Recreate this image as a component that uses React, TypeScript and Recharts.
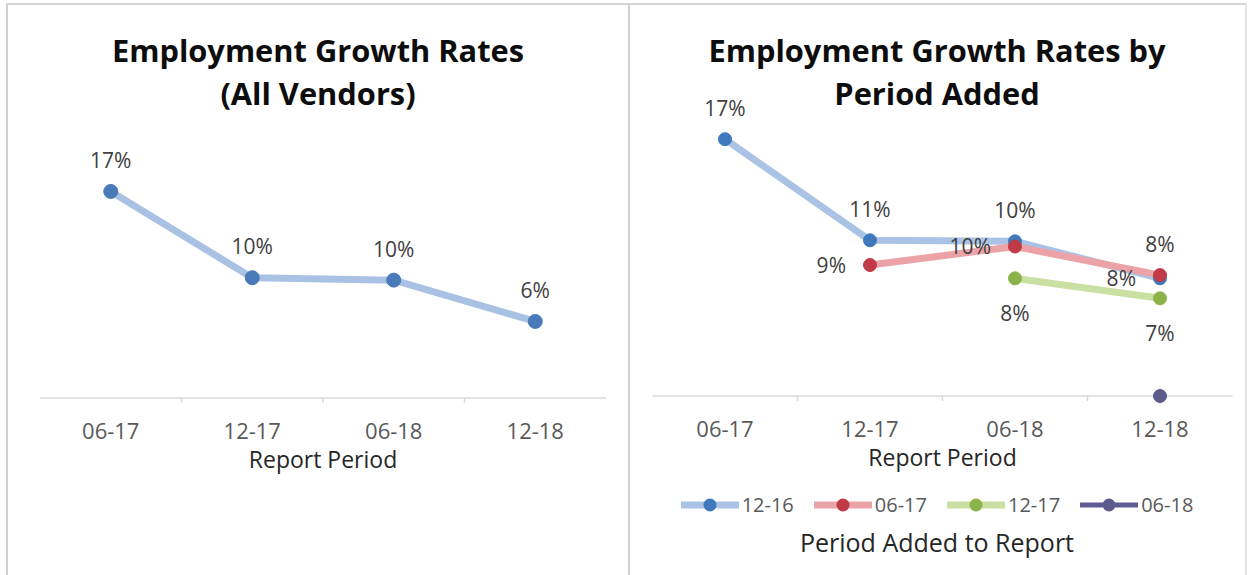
import { LineChart, Line, XAxis, YAxis, LabelList, Legend } from "recharts";

// report periods on the x axis
const periods = ["06-17", "12-17", "06-18", "12-18"];

// growth rate (%) across all vendors
const allVendors = [17.0, 9.9, 9.7, 6.3];

// growth rate (%) by the period the vendor was added
const added1216 = [17.35, 10.52, 10.45, 7.95];
const added0617 = [null, 8.85, 10.1, 8.17];
const added1217 = [null, null, 7.95, 6.6];
const added0618 = [null, null, null, 0];
const addedNames = ["12-16", "06-17", "12-17", "06-18"];

const FONT = '"Open Sans", "Noto Sans", sans-serif';

const allData = periods.map((period, i) => ({ period, rate: allVendors[i] }));

const addedData = periods.map((period, i) => ({
  period,
  s1216: added1216[i],
  s0617: added0617[i],
  s1217: added1217[i],
  s0618: added0618[i],
}));

const addedSeries = [
  { key: "s1216", values: added1216, line: "#aac3e4", dot: "#3f78bd", labels: ["top", "top", "top", "left"] },
  { key: "s0617", values: added0617, line: "#eba3a7", dot: "#c13a47", labels: [null, "left", "left", "top"] },
  { key: "s1217", values: added1217, line: "#cadfa2", dot: "#8cb34a", labels: [null, null, "bottom", "bottom"] },
  { key: "s0618", values: added0618, line: "#5f5b92", dot: "#5d5a8c", labels: [null, null, null, null] },
];

function pointLabel(places: (string | null)[], values: (number | null)[]) {
  return (props: any) => {
    const value = props.value;
    if (value == null) return null;
    const idx = typeof props.index === "number" ? props.index : values.indexOf(value);
    const place = places[idx];
    if (!place) return null;
    const vb = props.viewBox;
    const x = vb ? vb.x + (vb.width || 0) / 2 : props.x;
    const y = vb ? vb.y + (vb.height || 0) / 2 : props.y;
    let tx = x;
    let ty = y;
    let anchor = "middle";
    if (place === "top") ty = y - 31;
    else if (place === "bottom") ty = y + 35;
    else if (place === "left") {
      tx = x - 24;
      anchor = "end";
    }
    return (
      <text x={tx} y={ty} dy="0.36em" textAnchor={anchor} fill="#404040" fontSize={21} fontFamily={FONT}>
        {Math.round(value)}%
      </text>
    );
  };
}

function periodTick(half: number) {
  return (props: any) => {
    const { x, y, payload, index } = props;
    return (
      <g>
        <text x={x} y={y + 33} dy="0.36em" textAnchor="middle" fill="#595959" fontSize={22} fontFamily={FONT}>
          {payload.value}
        </text>
        {index < periods.length - 1 && (
          <line x1={x + half} x2={x + half} y1={y} y2={y + 5} stroke="#d9d9d9" strokeWidth={1.5} />
        )}
      </g>
    );
  };
}

function AddedLegend(props: any) {
  const payload = props.payload || [];
  return (
    <div style={{ width: 616, fontFamily: FONT }}>
      <div style={{ display: "flex", justifyContent: "center", alignItems: "center", gap: 20, height: 30 }}>
        {addedSeries.map((s, i) => {
          const entry = payload.find((p: any) => p.dataKey === s.key);
          return (
            <div key={s.key} style={{ display: "flex", alignItems: "center", gap: 3 }}>
              <svg width={58} height={16}>
                <line x1={0} x2={58} y1={8} y2={8} stroke={s.line} strokeWidth={s.key === "s0618" ? 5 : 7} />
                <circle cx={29} cy={8} r={6.5} fill={s.dot} />
              </svg>
              <span style={{ fontSize: 20, color: "#595959", lineHeight: "30px" }}>
                {entry ? entry.value : addedNames[i]}
              </span>
            </div>
          );
        })}
      </div>
      <div style={{ textAlign: "center", fontSize: 25, color: "#262626", lineHeight: "30px", marginTop: 7 }}>
        Period Added to Report
      </div>
    </div>
  );
}

const titleStyle: React.CSSProperties = {
  position: "absolute",
  top: 29,
  textAlign: "center",
  fontFamily: FONT,
  fontWeight: 700,
  fontSize: 30.8,
  lineHeight: "43px",
  color: "#0d0d0d",
};

const axisTitle = { fill: "#262626", fontSize: 23, fontFamily: FONT };

export default function App() {
  return (
    <div style={{ position: "absolute", left: 0, top: 0, width: 1249, height: 575, background: "#fff", overflow: "hidden" }}>
      <div
        style={{
          position: "absolute",
          left: 6,
          top: 3,
          width: 1237,
          height: 600,
          borderTop: "2px solid #d6d6d6",
          borderLeft: "2px solid #d0d0d0",
          borderRight: "2px solid #e4e4e4",
        }}
      />
      <div style={{ position: "absolute", left: 628, top: 3, width: 2, height: 572, background: "#d0d0d0" }} />

      <div style={{ ...titleStyle, left: 8, width: 620 }}>
        Employment Growth Rates
        <br />
        (All Vendors)
      </div>
      <div style={{ ...titleStyle, left: 630, width: 614 }}>
        Employment Growth Rates by
        <br />
        Period Added
      </div>

      <div style={{ position: "absolute", left: 6, top: 4 }}>
        <LineChart width={616} height={566} data={allData} margin={{ top: 151, right: 16, bottom: 92, left: 34 }}>
          <XAxis
            dataKey="period"
            padding={{ left: 70.75, right: 70.75 }}
            axisLine={{ stroke: "#d9d9d9", strokeWidth: 1.5 }}
            tickLine={false}
            tickSize={0}
            tickMargin={0}
            height={80}
            interval={0}
            tick={periodTick(70.75)}
            label={{ value: "Report Period", position: "insideTop", offset: 54, ...axisTitle }}
          />
          <YAxis hide type="number" domain={[0, 20]} />
          <Line
            dataKey="rate"
            type="linear"
            stroke="#a9c2e3"
            strokeWidth={7}
            strokeLinejoin="round"
            dot={{ r: 7, fill: "#4a7ab7", stroke: "#4a7ab7", strokeWidth: 1 }}
            activeDot={false}
            isAnimationActive={false}
          >
            <LabelList dataKey="rate" content={pointLabel(["top", "top", "top", "top"], allVendors)} />
          </Line>
        </LineChart>
      </div>

      <div style={{ position: "absolute", left: 629, top: 4 }}>
        <LineChart width={616} height={566} data={addedData} margin={{ top: 96, right: 12.5, bottom: 94, left: 23.5 }}>
          <XAxis
            dataKey="period"
            padding={{ left: 72.5, right: 72.5 }}
            axisLine={{ stroke: "#d9d9d9", strokeWidth: 1.5 }}
            tickLine={false}
            tickSize={0}
            tickMargin={0}
            height={80}
            interval={0}
            tick={periodTick(72.5)}
            label={{ value: "Report Period", position: "insideTop", offset: 54, ...axisTitle }}
          />
          <YAxis hide type="number" domain={[0, 20]} />
          <Legend
            layout="horizontal"
            verticalAlign="middle"
            align="center"
            width={616}
            wrapperStyle={{ top: 486, left: 0, width: 616 }}
            content={<AddedLegend />}
          />
          {addedSeries.map((s, i) => (
            <Line
              key={s.key}
              dataKey={s.key}
              name={addedNames[i]}
              type="linear"
              stroke={s.line}
              strokeWidth={s.key === "s0618" ? 5 : 7}
              strokeLinejoin="round"
              dot={{ r: 6.5, fill: s.dot, stroke: s.dot, strokeWidth: 1 }}
              activeDot={false}
              connectNulls={false}
              isAnimationActive={false}
            >
              <LabelList dataKey={s.key} content={pointLabel(s.labels, s.values)} />
            </Line>
          ))}
        </LineChart>
      </div>
    </div>
  );
}
